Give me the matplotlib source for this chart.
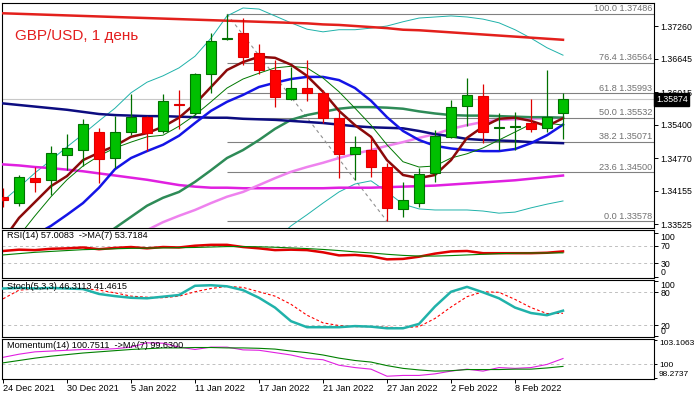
import matplotlib
matplotlib.use("Agg")
import matplotlib.pyplot as plt
import numpy as np

plt.rcParams['font.family'] = ['Liberation Sans', 'DejaVu Sans']

# ---------------- data ----------------
date_labels = ['24 Dec 2021', '30 Dec 2021', '5 Jan 2022', '11 Jan 2022', '17 Jan 2022',
               '21 Jan 2022', '27 Jan 2022', '2 Feb 2022', '8 Feb 2022']
date_label_bars = [0, 4, 8, 12, 16, 20, 24, 28, 32]

opens = [1.3404, 1.3392, 1.3439, 1.3436, 1.3482, 1.3493, 1.3526, 1.3477, 1.3527, 1.3555,
         1.3528, 1.3579, 1.3561, 1.3636, 1.3701, 1.3713, 1.3676, 1.3643, 1.3588, 1.3610,
         1.3599, 1.3552, 1.3484, 1.3492, 1.3461, 1.3380, 1.3393, 1.3448, 1.3516, 1.3575,
         1.3594, 1.3534, 1.3535, 1.3543, 1.3533, 1.3561]
highs = [1.3420, 1.3445, 1.3460, 1.3500, 1.3522, 1.3550, 1.3533, 1.3556, 1.3598, 1.3556,
         1.3597, 1.3605, 1.3637, 1.3712, 1.37486, 1.3741, 1.3692, 1.3662, 1.3649, 1.3662,
         1.3605, 1.3568, 1.3519, 1.3517, 1.3467, 1.3431, 1.3458, 1.3529, 1.3586, 1.3627,
         1.3617, 1.3562, 1.3564, 1.3588, 1.3643, 1.3599]
lows = [1.3385, 1.3386, 1.3413, 1.3407, 1.3454, 1.3462, 1.3429, 1.3458, 1.3520, 1.3490,
        1.3524, 1.3531, 1.3558, 1.3599, 1.3699, 1.3652, 1.3636, 1.3573, 1.3587, 1.3585,
        1.3543, 1.3439, 1.3436, 1.3442, 1.33578, 1.3365, 1.3384, 1.3432, 1.3514, 1.3537,
        1.3505, 1.3492, 1.3492, 1.3527, 1.3527, 1.3512]
closes = [1.3397, 1.3441, 1.3432, 1.3486, 1.3495, 1.3541, 1.3476, 1.3526, 1.3555, 1.3525,
          1.3585, 1.3577, 1.3635, 1.3698, 1.3704, 1.3668, 1.3643, 1.3593, 1.3610, 1.3599,
          1.3552, 1.3485, 1.3497, 1.3461, 1.3382, 1.3397, 1.3446, 1.3519, 1.3574, 1.3596,
          1.3526, 1.3536, 1.3537, 1.3532, 1.3554, 1.35874]

ma_red = [1.3750, 1.3749, 1.3748, 1.3747, 1.3746, 1.3745, 1.3744, 1.3743, 1.3742, 1.3741,
          1.3740, 1.3739, 1.3738, 1.3737, 1.3736, 1.3735, 1.3734, 1.3733, 1.3732, 1.3731,
          1.3729, 1.3728, 1.3726, 1.3724, 1.3722, 1.3719, 1.3718, 1.3716, 1.3714, 1.3712,
          1.3710, 1.3708, 1.3706, 1.3704, 1.3702, 1.3700]
ma_navy = [1.3580, 1.3577, 1.3574, 1.3571, 1.3568, 1.3564, 1.3560, 1.3558, 1.3557, 1.3556,
           1.3556, 1.3555, 1.3554, 1.3553, 1.3553, 1.3551, 1.3550, 1.3549, 1.3547, 1.3545,
           1.3543, 1.3540, 1.3537, 1.3535, 1.3534, 1.3533, 1.3528, 1.3522, 1.3518, 1.3513,
           1.3511, 1.3510, 1.3509, 1.3507, 1.3506, 1.3505]
ma_magenta = [1.3465, 1.3463, 1.3460, 1.3458, 1.3455, 1.3452, 1.3448, 1.3444, 1.3440, 1.3436,
              1.3431, 1.3426, 1.3423, 1.3421, 1.3421, 1.3420, 1.3420, 1.3420, 1.3420, 1.3420,
              1.3420, 1.3421, 1.3421, 1.3421, 1.3422, 1.3423, 1.3424, 1.3425, 1.3427, 1.3429,
              1.3431, 1.3433, 1.3435, 1.3438, 1.3441, 1.3444]
ma_blue = [1.3304, 1.3317, 1.3332, 1.3349, 1.3370, 1.3392, 1.3421, 1.3456, 1.3477, 1.3490,
           1.3502, 1.3519, 1.3543, 1.3566, 1.3583, 1.3596, 1.3611, 1.3619, 1.3626, 1.3630,
           1.3630, 1.3624, 1.3609, 1.3585, 1.3554, 1.3528, 1.3511, 1.3500, 1.3495, 1.3492,
           1.3490, 1.3490, 1.3494, 1.3505, 1.3520, 1.3540]
ma_maroon = [1.3322, 1.3364, 1.3394, 1.3424, 1.3443, 1.3473, 1.3487, 1.3500, 1.3517, 1.3524,
             1.3536, 1.3553, 1.3579, 1.3611, 1.3643, 1.3658, 1.3668, 1.3666, 1.3653, 1.3632,
             1.3602, 1.3566, 1.3539, 1.3517, 1.3473, 1.3445, 1.3439, 1.3445, 1.3473, 1.3515,
             1.3536, 1.3551, 1.3553, 1.3547, 1.3537, 1.3552]
ma_green = [1.3239, 1.3251, 1.3262, 1.3275, 1.3289, 1.3304, 1.3322, 1.3345, 1.3366, 1.3387,
            1.3402, 1.3413, 1.3432, 1.3454, 1.3477, 1.3492, 1.3511, 1.3532, 1.3549, 1.3558,
            1.3564, 1.3570, 1.3573, 1.3573, 1.3572, 1.3570, 1.3565, 1.3561, 1.3558, 1.3557,
            1.3557, 1.3556, 1.3555, 1.3554, 1.3554, 1.3553]
ma_pink = [1.3206, 1.3221, 1.3236, 1.3251, 1.3266, 1.3281, 1.3296, 1.3311, 1.3326, 1.3341,
           1.3356, 1.3368, 1.3379, 1.3392, 1.3404, 1.3413, 1.3426, 1.3439, 1.3451, 1.3460,
           1.3468, 1.3477, 1.3485, 1.3492, 1.3500, 1.3507, 1.3515, 1.3522, 1.3532, 1.3539,
           1.3545, 1.3549, 1.3550, 1.3551, 1.3552, 1.3553]
ma_thin = [1.3294, 1.3330, 1.3368, 1.3404, 1.3436, 1.3462, 1.3481, 1.3496, 1.3507, 1.3517,
           1.3520, 1.3537, 1.3558, 1.3583, 1.3609, 1.3626, 1.3637, 1.3647, 1.3650, 1.3647,
           1.3628, 1.3602, 1.3571, 1.3539, 1.3502, 1.3470, 1.3460, 1.3462, 1.3477, 1.3485,
           1.3496, 1.3511, 1.3526, 1.3541, 1.3543, 1.3539]
bb_upper = [1.3396, 1.3422, 1.3449, 1.3473, 1.3498, 1.3522, 1.3547, 1.3571, 1.3600, 1.3620,
            1.3632, 1.3647, 1.3669, 1.3703, 1.3745, 1.3760, 1.3758, 1.3745, 1.3732, 1.3720,
            1.3715, 1.3719, 1.3719, 1.3722, 1.3726, 1.3734, 1.3741, 1.3743, 1.3745, 1.3743,
            1.3739, 1.3732, 1.3719, 1.3703, 1.3685, 1.3671]
bb_lower = [np.nan] * 17 + [1.3322, 1.3349, 1.3370, 1.3392, 1.3413, 1.3428, 1.3434, 1.3413,
                            1.3390, 1.3381, 1.3379, 1.3379, 1.3379, 1.3377, 1.3373, 1.3375,
                            1.3383, 1.3390, 1.3396]

fib_pcts = ['100.0', '76.4', '61.8', '50.0', '38.2', '23.6', '0.0']
fib_prices = [1.37486, 1.36564, 1.35993, 1.35532, 1.35071, 1.34500, 1.33578]
fib_start_bar, fib_end_bar = 14, 24
last_price = 1.35874
price_ticks = [1.37260, 1.36645, 1.36015, 1.35400, 1.34770, 1.34155, 1.33525]

rsi = [58, 61, 60, 63, 64, 66, 62, 65, 67, 64, 67, 66, 70, 72, 72, 67, 64, 60, 61, 60,
       55, 48, 49, 46, 39, 40, 45, 52, 57, 58, 53, 53, 53, 53, 54, 57.0]
rsi_ma = [49, 52, 55, 57, 59, 61, 62, 63, 64, 64.5, 65, 65.5, 66, 67, 68, 68, 67.5, 66.5,
          65, 63.5, 61.5, 59, 56, 53.5, 50.5, 48, 46.5, 46.5, 47.5, 49, 50.5, 52, 53, 53.5,
          53.5, 53.7]
stoch_k = [87, 88, 87, 88, 87, 86, 77, 73, 70, 69, 72, 75, 92, 93, 91, 84, 70, 52, 27, 16,
           16, 16, 18, 17, 14, 14, 22, 54, 81, 90, 80, 69, 52, 42, 38, 46.3]
stoch_d = [68, 84, 86, 87, 87, 87, 84, 79, 73, 71, 70, 73, 81, 87, 91, 89, 81, 73, 58, 38,
           24, 19, 17, 17, 16, 15, 17, 32, 53, 72, 81, 80, 67, 52, 41, 41.5]
momentum = [100.9, 101.3, 101.6, 101.7, 101.8, 101.9, 101.9, 102.0, 102.2, 102.75, 102.7,
            102.2, 101.9, 102.2, 102.2, 101.85, 101.8, 101.5, 101.2, 100.75, 100.6, 99.9,
            99.6, 99.4, 98.5, 98.6, 98.6, 98.8, 99.15, 99.4, 99.15, 99.6, 99.5, 99.6, 100.0,
            100.75]
momentum_ma = [100.2, 100.5, 100.8, 101.05, 101.25, 101.45, 101.6, 101.75, 101.9, 102.0,
               102.1, 102.1, 102.15, 102.15, 102.1, 102.1, 102.05, 101.95, 101.7, 101.5,
               101.2, 100.8, 100.5, 100.3, 99.85, 99.5, 99.3, 99.15, 99.2, 99.35, 99.35,
               99.35, 99.4, 99.4, 99.55, 99.75]

title_text = "GBP/USD, 1 день"
rsi_text = "RSI(14) 57.0083  ->MA(7) 53.7184"
stoch_text = "Stoch(5,3,3) 46.3113 41.4615"
mom_text = "Momentum(14) 100.7511  ->MA(7) 99.6300"

# ---------------- layout ----------------
W, H = 695, 394
fig = plt.figure(figsize=(W / 100, H / 100), dpi=100)
fig.patch.set_facecolor('white')


def rect(l, t, r, b):
    return [l / W, 1 - b / H, (r - l) / W, (b - t) / H]


ax_main = fig.add_axes(rect(2, 3, 654, 228))
ax_rsi = fig.add_axes(rect(2, 230, 654, 278))
ax_st = fig.add_axes(rect(2, 280, 654, 337))
ax_mom = fig.add_axes(rect(2, 339, 654, 379))

x = np.arange(len(closes))
XMIN, XMAX = -0.0625, 40.6875
FS = 6.6
YFS = 6.3
TXT = '#000000'

for ax in (ax_main, ax_rsi, ax_st, ax_mom):
    ax.set_xlim(XMIN, XMAX)
    ax.set_facecolor('white')
    for s in ax.spines.values():
        s.set_color('black')
        s.set_linewidth(0.8)
    ax.yaxis.tick_right()
    ax.tick_params(axis='y', direction='out', length=3, width=0.7, pad=1.5,
                   labelsize=YFS, colors='black')
    ax.tick_params(axis='x', bottom=False, labelbottom=False)

# ---------------- main panel ----------------
ax = ax_main
ax.set_ylim(1.33450, 1.37694)

# last price line
ax.axhline(last_price, color='#c8c8c8', lw=0.8, zorder=1)

# fibonacci
ax.hlines(fib_prices, fib_start_bar, XMAX, colors='#808080', lw=0.8, zorder=1)
for p, pr in zip(fib_pcts, fib_prices):
    ax.text(XMAX - 0.12, pr + 0.00012, f"{p} {pr:.5f}", ha='right', va='bottom',
            fontsize=FS, color='#707070', zorder=2)
ax.plot([fib_start_bar, fib_end_bar], [fib_prices[0], fib_prices[-1]],
        color='#909090', lw=0.8, ls=(0, (3, 3)), zorder=1)

# lines
ax.plot(x, bb_upper, color='#20b2aa', lw=0.7, zorder=3)
ax.plot(x, bb_lower, color='#20b2aa', lw=0.7, zorder=3)
ax.plot(x, ma_red, color='#e3201c', lw=1.8, zorder=3)
ax.plot(x, ma_magenta, color='#e020e0', lw=1.8, zorder=3)
ax.plot(x, ma_pink, color='#ee82ee', lw=1.8, zorder=3)
ax.plot(x, ma_green, color='#2e8b57', lw=1.8, zorder=3)
ax.plot(x, ma_navy, color='#0c0c80', lw=1.8, zorder=3)
ax.plot(x, ma_blue, color='#1414e6', lw=1.8, zorder=3)
ax.plot(x, ma_thin, color='#007800', lw=0.7, zorder=3)
ax.plot(x, ma_maroon, color='#8b0a0a', lw=1.8, zorder=4)

# candles
o = np.array(opens); c = np.array(closes); h = np.array(highs); l = np.array(lows)
up = c >= o
for i in range(len(x)):
    col_body = '#00c000' if up[i] else '#ff0000'
    col_edge = '#007000' if up[i] else '#e00000'
    ax.vlines(x[i], l[i], h[i], color=col_edge, lw=0.9, zorder=5)
    bot = min(o[i], c[i])
    hgt = max(abs(c[i] - o[i]), 0.00003)
    ax.bar(x[i], hgt, bottom=bot, width=0.66, color=col_body, edgecolor=col_edge,
           linewidth=0.8, zorder=6)

ax.set_yticks(price_ticks)
ax.set_yticklabels([f"{t:.5f}" for t in price_ticks])

# last price box
ax.text(1.003, last_price, f"{last_price:.5f}", transform=ax.get_yaxis_transform(),
        ha='left', va='center', fontsize=YFS, color='white',
        bbox=dict(boxstyle='square,pad=0.2', fc='black', ec='black'), zorder=10,
        clip_on=False)

fig.text(15 / W, 1 - 36 / H, title_text, fontsize=11, color='#e31e1e', va='center',
         ha='left')

# ---------------- RSI ----------------
ax = ax_rsi
ax.set_ylim(-3.4, 105.7)
for lv in (70, 30):
    ax.axhline(lv, color='#c0c0c0', lw=0.7, ls=(0, (3, 3)))
ax.plot(x, rsi_ma, color='#008000', lw=0.8, zorder=3)
ax.plot(x, rsi, color='#e00000', lw=1.8, zorder=2)
ax.set_yticks([100, 70, 30, 0])
ax.set_yticklabels(['100', '70', '30', '0'])
labs = ax.get_yticklabels()
labs[0].set_va('top'); labs[3].set_va('bottom')
ax.text(0.008, 0.98, rsi_text, transform=ax.transAxes,
        ha='left', va='top', fontsize=FS, color=TXT)

# ---------------- Stochastic ----------------
ax = ax_st
ax.set_ylim(-2, 102.6)
for lv in (80, 20):
    ax.axhline(lv, color='#c0c0c0', lw=0.7, ls=(0, (3, 3)))
ax.plot(x, stoch_d, color='#ff0000', lw=0.8, ls=(0, (2.5, 2)), zorder=2)
ax.plot(x, stoch_k, color='#20b2aa', lw=1.8, zorder=3)
ax.set_yticks([100, 80, 20, 0])
ax.set_yticklabels(['100', '80', '20', '0'])
labs = ax.get_yticklabels()
labs[0].set_va('top'); labs[3].set_va('bottom')
ax.text(0.008, 0.96, stoch_text, transform=ax.transAxes, ha='left', va='top',
        fontsize=FS, color=TXT, zorder=5)

# ---------------- Momentum ----------------
ax = ax_mom
ax.set_ylim(98.147, 103.233)
ax.axhline(100, color='#c0c0c0', lw=0.7, ls=(0, (3, 3)))
ax.plot(x, momentum_ma, color='#008000', lw=0.8, zorder=3)
ax.plot(x, momentum, color='#e020e0', lw=0.8, zorder=2)
ax.tick_params(axis='y', length=2.5, pad=1.0, labelsize=6.0)
ax.set_yticks([103.1063, 100, 98.2737])
ax.set_yticklabels(['103.1063', '100', '98.2737'])
labs = ax.get_yticklabels()
labs[0].set_va('top'); labs[2].set_va('bottom')
ax.text(0.008, 0.96, mom_text, transform=ax.transAxes, ha='left', va='top',
        fontsize=FS, color=TXT, zorder=5)

ax.tick_params(axis='x', bottom=True, labelbottom=True, direction='out', length=3,
               width=0.7, pad=0.8, labelsize=FS, colors='black')
ax.set_xticks(date_label_bars)
ax.set_xticklabels(date_labels, ha='left')

fig.savefig('out.png', dpi=100)
